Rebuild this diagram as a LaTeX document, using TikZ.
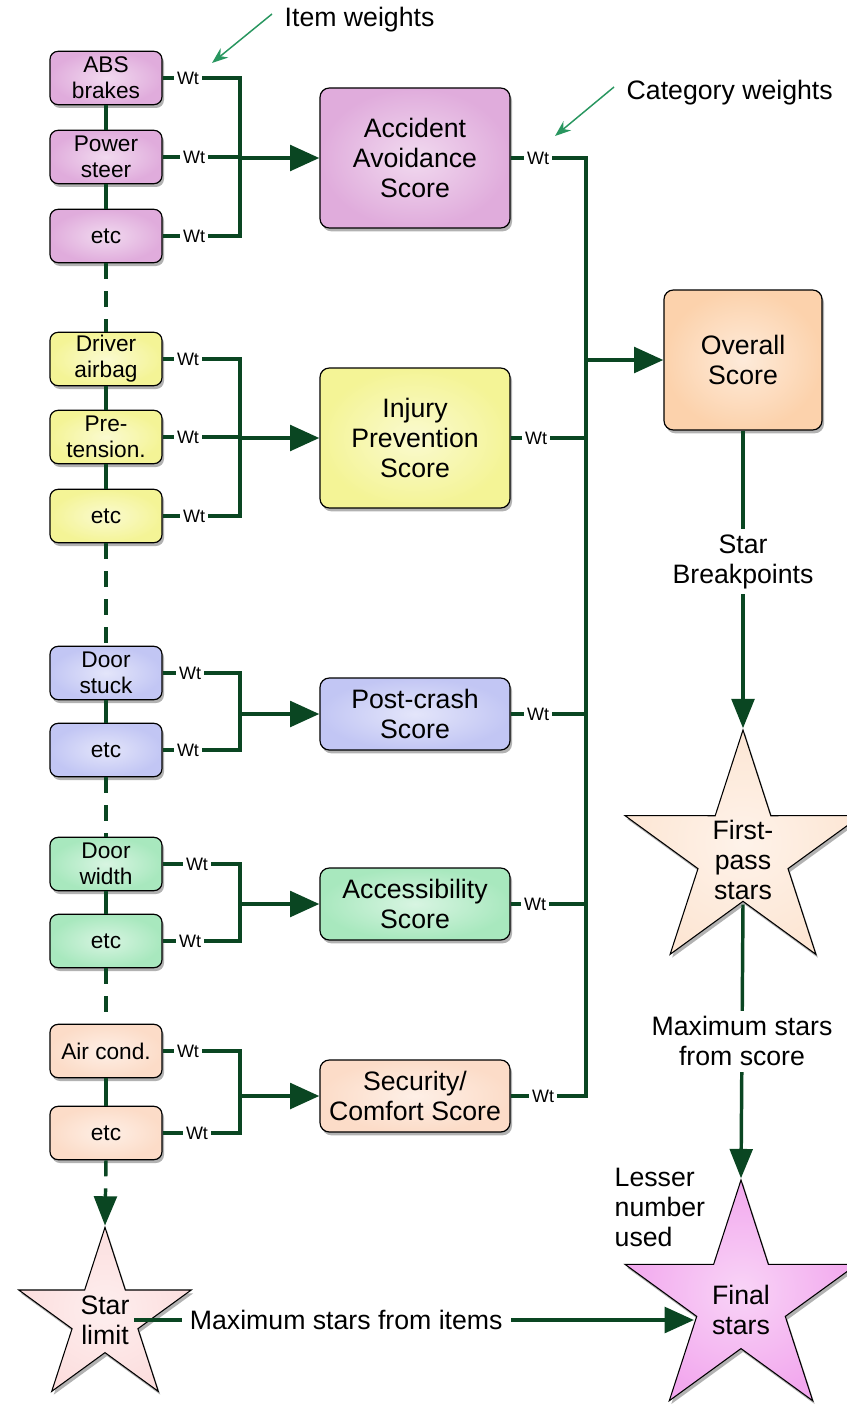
\documentclass[tikz,border=0pt]{standalone}
\usepackage{fontspec}
\setmainfont{Liberation Sans}
\usetikzlibrary{shapes.geometric,arrows.meta,shadows}

\definecolor{linegreen}{RGB}{10,70,34}
\definecolor{notegreen}{RGB}{40,150,95}
\definecolor{accfill}{RGB}{224,172,220}
\definecolor{injfill}{RGB}{244,244,150}
\definecolor{postfill}{RGB}{194,198,244}
\definecolor{accsfill}{RGB}{168,232,190}
\definecolor{comffill}{RGB}{252,220,200}
\definecolor{overfill}{RGB}{252,210,172}
\definecolor{fpfill}{RGB}{253,230,212}
\definecolor{limfill}{RGB}{252,222,222}
\definecolor{finfill}{RGB}{242,168,238}

\begin{document}
\begin{tikzpicture}[x=0.75pt,y=0.75pt,yscale=-1,xscale=1,
    boxshadow/.style={drop shadow={shadow xshift=1.5pt,shadow yshift=-2.5pt,fill=black,opacity=0.3}},
    itembox/.style={draw,rounded corners=6pt,line width=0.9pt,minimum width=84pt,minimum height=40pt,
        inner sep=1pt,align=center,font=\fontsize{17}{19.5}\selectfont,
        inner color=white!55!#1,outer color=#1,boxshadow},
    scorebox/.style={draw,rounded corners=7pt,line width=0.9pt,minimum width=142.5pt,
        inner sep=1pt,align=center,font=\fontsize{20}{22.5}\selectfont,
        inner color=white!55!#1,outer color=#1,boxshadow},
    starnode/.style={draw,star,star points=5,star point ratio=2.62,line width=0.8pt,
        inner sep=0pt,minimum size=#1,boxshadow},
    wt/.style={fill=white,inner sep=2pt,font=\fontsize{13.5}{14}\selectfont},
    lbl/.style={align=center,font=\fontsize{20}{22.5}\selectfont},
    wline/.style={draw=linegreen,line width=2.6pt},
    dline/.style={draw=linegreen,line width=2.6pt,dash pattern=on 12pt off 9pt},
    mainarrow/.style={draw=linegreen,line width=3.4pt,-{Triangle[length=22pt,width=19pt]}},
    thinarrow/.style={draw=linegreen,line width=2.6pt,-{Triangle[length=22pt,width=17pt]}},
    notearrow/.style={draw=notegreen,line width=1.1pt,-{Stealth[length=12pt,width=9pt]}}
]
\useasboundingbox (0,0) rectangle (846,1405);

% Item boxes
\node[itembox=accfill] (a1) at (106,78) {ABS\\brakes};
\node[itembox=accfill] (a2) at (106,157) {Power\\steer};
\node[itembox=accfill] (a3) at (106,236) {etc};
\node[itembox=injfill] (b1) at (106,359) {Driver\\airbag};
\node[itembox=injfill] (b2) at (106,437) {Pre-\\tension.};
\node[itembox=injfill] (b3) at (106,516) {etc};
\node[itembox=postfill] (c1) at (106,673) {Door\\stuck};
\node[itembox=postfill] (c2) at (106,750) {etc};
\node[itembox=accsfill] (d1) at (106,864) {Door\\width};
\node[itembox=accsfill] (d2) at (106,941) {etc};
\node[itembox=comffill] (e1) at (106,1051) {Air cond.};
\node[itembox=comffill] (e2) at (106,1133) {etc};

% Score boxes
\node[scorebox=accfill,minimum height=105pt] (sA) at (415,158) {Accident\\Avoidance\\Score};
\node[scorebox=injfill,minimum height=105pt] (sB) at (415,438) {Injury\\Prevention\\Score};
\node[scorebox=postfill,minimum height=54pt] (sC) at (415,714) {Post-crash\\Score};
\node[scorebox=accsfill,minimum height=54pt] (sD) at (415,904) {Accessibility\\Score};
\node[scorebox=comffill,minimum height=54pt] (sE) at (415,1096) {Security/\\Comfort Score};
\node[scorebox=overfill,minimum width=118.5pt,minimum height=105pt] (over) at (743,360) {Overall\\Score};

% Stars
\node[starnode=186pt,inner color=white!50!fpfill,outer color=fpfill] (fps) at (743,854) {};
\node[starnode=183pt,inner color=white!50!finfill,outer color=finfill] (fin) at (741,1302) {};
\node[starnode=136pt,inner color=white!50!limfill,outer color=limfill] (lim) at (105,1318) {};
\node[lbl] (fpstxt) at (743,860) {First-\\pass\\stars};
\node[lbl] (fintxt) at (741,1310) {Final\\stars};
\node[lbl] (limtxt) at (105,1320) {Star\\limit};

% Chain of items
\draw[wline] (a1.south) -- (a2.north);
\draw[wline] (a2.south) -- (a3.north);
\draw[dline] (a3.south) -- (b1.north);
\draw[wline] (b1.south) -- (b2.north);
\draw[wline] (b2.south) -- (b3.north);
\draw[dline] (b3.south) -- (c1.north);
\draw[wline] (c1.south) -- (c2.north);
\draw[dline] (c2.south) -- (d1.north);
\draw[wline] (d1.south) -- (d2.north);
\draw[dline] (d2.south) -- (e1.north);
\draw[wline] (e1.south) -- (e2.north);
\draw[dline,-{Triangle[length=22pt,width=17pt]}] (e2.south) -- (lim.north);

% Item brackets
\coordinate (jA) at (240,158);
\coordinate (jB) at (240,438);
\coordinate (jC) at (240,714);
\coordinate (jD) at (240,904);
\coordinate (jE) at (240,1096);
\draw[wline] (a1.east) -- (a1.east -| jA) -- (a3.east -| jA) -- (a3.east);
\draw[wline] (a2.east) -- (a2.east -| jA);
\draw[mainarrow] (jA) -- (sA.west);
\draw[wline] (b1.east) -- (b1.east -| jB) -- (b3.east -| jB) -- (b3.east);
\draw[wline] (b2.east) -- (b2.east -| jB);
\draw[mainarrow] (jB) -- (sB.west);
\draw[wline] (c1.east) -- (c1.east -| jC) -- (c2.east -| jC) -- (c2.east);
\draw[mainarrow] (jC) -- (sC.west);
\draw[wline] (d1.east) -- (d1.east -| jD) -- (d2.east -| jD) -- (d2.east);
\draw[mainarrow] (jD) -- (sD.west);
\draw[wline] (e1.east) -- (e1.east -| jE) -- (e2.east -| jE) -- (e2.east);
\draw[mainarrow] (jE) -- (sE.west);

% Category bus
\coordinate (bus) at (586,360);
\draw[wline] (sA.east) -- (sA.east -| bus) -- (sE.east -| bus) -- (sE.east);
\draw[wline] (sB.east) -- (sB.east -| bus);
\draw[wline] (sC.east) -- (sC.east -| bus);
\draw[wline] (sD.east) -- (sD.east -| bus);
\draw[mainarrow] (bus) -- (over.west);

% Item weights
\node[wt] (wa1) at (188,78) {Wt};
\node[wt] (wa2) at (194,157) {Wt};
\node[wt] (wa3) at (194,236) {Wt};
\node[wt] (wb1) at (188,359) {Wt};
\node[wt] (wb2) at (188,437) {Wt};
\node[wt] (wb3) at (194,516) {Wt};
\node[wt] (wc1) at (190,673) {Wt};
\node[wt] (wc2) at (188,750) {Wt};
\node[wt] (wd1) at (197,864) {Wt};
\node[wt] (wd2) at (190,941) {Wt};
\node[wt] (we1) at (188,1051) {Wt};
\node[wt] (we2) at (197,1133) {Wt};

% Category weights
\node[wt] (cwA) at (538,158) {Wt};
\node[wt] (cwB) at (536,438) {Wt};
\node[wt] (cwC) at (538,714) {Wt};
\node[wt] (cwD) at (535,904) {Wt};
\node[wt] (cwE) at (543,1096) {Wt};

% Star flow
\draw[thinarrow] (over.south) -- node[lbl,fill=white,pos=0.44,inner sep=4pt] (brk) {Star\\Breakpoints} (fps.north);
\draw[thinarrow] (fpstxt.south) -- node[lbl,fill=white,pos=0.5,inner sep=4pt] (mxs) {Maximum stars\\from score} (fin.north);
\draw[mainarrow,shorten >=10pt] (limtxt.east) -- node[lbl,fill=white,pos=0.37,inner sep=6pt] (mxi) {Maximum stars from items} (limtxt.east -| fintxt.west);

% Notes
\node[lbl,anchor=west] (itw) at (280,20) {Item weights};
\node[lbl,anchor=west] (ctw) at (622,93) {Category weights};
\node[lbl,anchor=west,align=left] (less) at (610,1207) {Lesser\\number\\used};
\coordinate (itwtip) at (212,63);
\coordinate (ctwtip) at (555,136);
\draw[notearrow] (itw.west) ++(-8,-6) -- (itwtip);
\draw[notearrow] (ctw.west) ++(-8,-6) -- (ctwtip);

\end{tikzpicture}
\end{document}
